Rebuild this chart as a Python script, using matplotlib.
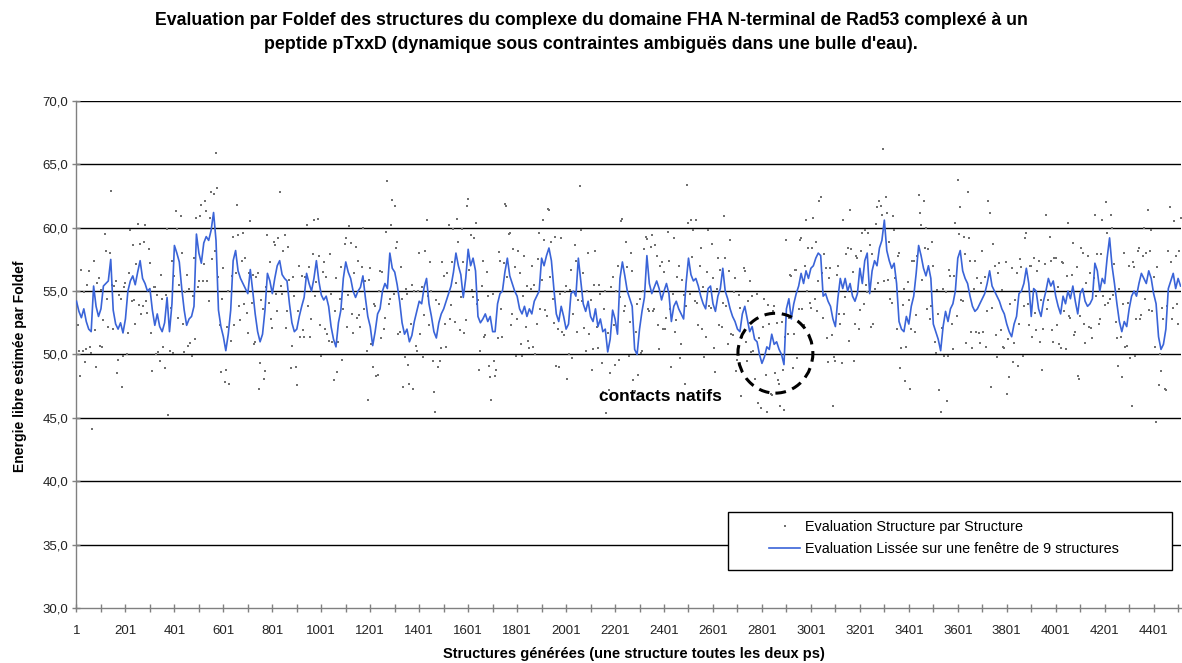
import matplotlib
matplotlib.use('Agg')
import matplotlib.pyplot as plt
import matplotlib.patches as patches
from matplotlib.ticker import FixedLocator, FuncFormatter
import numpy as np

plt.rcParams['font.family'] = ['Liberation Sans', 'DejaVu Sans']

# Energie lissée (fenêtre de 9 structures), relevée toutes les 10 structures
smooth_energy = [
    54.2, 53.4, 52.9, 53.6, 52.6, 52.0, 51.8, 55.4, 53.8, 53.0,
    53.6, 55.4, 55.6, 55.8, 57.5, 53.5, 52.4, 52.0, 52.5, 51.7,
    52.8, 55.0, 55.8, 56.2, 55.5, 56.5, 57.4, 56.0, 55.6, 55.0,
    55.2, 53.5, 52.3, 53.2, 52.2, 51.8, 52.5, 54.5, 51.8, 54.0,
    58.6, 58.0, 57.3, 55.2, 53.5, 52.3, 52.8, 53.0, 53.8, 59.5,
    58.0, 57.2, 58.8, 59.3, 59.0, 59.8, 61.2, 59.0, 53.5, 52.2,
    51.4, 50.3, 51.6, 53.5, 57.4, 58.2, 56.6, 56.0, 55.6, 55.2,
    54.8, 56.7, 55.0, 53.2, 51.8, 51.0, 51.6, 53.5, 56.4, 55.8,
    54.8, 56.0, 57.0, 57.4, 56.3, 56.0, 55.8, 54.0, 52.5, 51.8,
    52.0, 53.0, 53.8, 54.5, 56.4, 55.6, 55.0, 56.0, 57.4, 55.8,
    54.7, 54.3, 54.6, 53.8, 52.2, 51.2, 50.6, 52.5, 53.5, 56.0,
    57.3, 56.5, 56.0, 55.0, 54.5, 55.0, 55.3, 56.2, 54.5, 53.0,
    52.2, 50.7, 51.8, 53.2, 53.6, 55.0, 55.6, 55.2, 58.0, 56.8,
    56.5, 55.5, 54.2, 52.5, 51.6, 52.0, 51.0, 51.5, 52.6, 53.4,
    54.2, 54.0, 55.3, 56.0, 54.0, 53.0, 51.8, 51.3, 52.5, 53.2,
    53.6, 54.2, 54.8, 55.4, 56.5, 58.0, 57.0, 56.3, 54.5, 56.0,
    58.3, 57.0, 57.6, 56.6, 53.0, 52.5, 52.8, 53.2, 52.6, 53.0,
    51.8, 51.8, 54.0, 54.8, 55.0, 56.5, 57.6, 56.2, 55.6, 55.0,
    54.6, 53.6, 53.2, 53.8, 53.0, 53.6, 53.2, 54.2, 54.6, 55.0,
    57.6, 57.0, 57.8, 58.4, 57.4, 55.2, 53.2, 52.6, 53.8, 53.0,
    52.0, 52.4, 54.8, 55.0, 54.6, 57.6, 55.8, 54.0, 53.4, 54.2,
    53.0, 52.6, 53.6, 52.2, 52.8, 51.8, 52.0, 50.2, 51.2, 53.5,
    52.8, 51.6, 56.0, 57.3, 56.2, 55.0, 54.4, 53.8, 50.4, 50.0,
    52.0, 53.4, 54.5, 57.8, 55.6, 54.8, 55.3, 55.8, 55.2, 54.3,
    55.0, 55.6, 54.8, 52.6, 53.8, 54.2, 53.6, 53.2, 52.8, 55.6,
    57.6, 56.3, 55.8, 56.0, 55.4, 54.6, 54.0, 53.6, 55.2, 55.4,
    54.0, 53.4, 54.6, 55.2, 56.8, 55.0, 54.4, 53.6, 53.0, 52.6,
    52.0, 51.8, 53.2, 53.8, 52.8, 51.8, 52.2, 51.2, 51.0, 50.0,
    49.3, 49.8, 50.6, 50.4, 51.6, 50.8, 51.0, 50.4, 50.0, 49.2,
    53.6, 54.4, 52.8, 54.0, 54.8, 55.4, 56.4, 55.6, 56.6, 56.0,
    56.8, 57.0, 57.6, 58.0, 57.8, 54.6, 54.8, 54.2, 53.8, 52.8,
    52.2, 54.4, 56.0, 55.2, 56.0, 55.0, 55.6, 54.6, 54.2, 54.8,
    56.8, 55.6, 57.4, 58.0, 54.8, 56.6, 57.4, 57.0, 58.4, 59.0,
    60.6, 58.2, 57.4, 56.8, 57.2, 55.6, 52.6, 52.0, 51.8, 53.0,
    52.4, 53.8, 54.6, 56.4, 58.6, 57.8, 56.8, 56.2, 57.0, 56.0,
    52.4, 51.8, 51.2, 50.3, 52.2, 53.4, 52.6, 53.6, 54.0, 55.0,
    57.6, 58.2, 56.6, 56.0, 55.6, 54.6, 53.8, 53.4, 53.6, 54.0,
    54.4, 54.8, 55.6, 56.6, 55.4, 55.0, 54.6, 54.2, 53.6, 53.2,
    52.4, 51.8, 51.4, 52.4, 53.0, 54.8, 55.0, 55.6, 56.8, 55.6,
    53.0, 55.2, 55.0, 53.6, 53.0, 54.2, 55.0, 56.0, 55.4, 55.8,
    54.6, 53.8, 53.2, 54.6, 54.0, 55.0, 54.4, 55.4, 54.2, 53.2,
    54.8, 55.2, 54.2, 53.8, 54.0, 54.4, 57.2, 56.6, 55.0, 56.0,
    55.6, 57.6, 59.2, 57.0, 55.6, 54.0, 52.6, 51.8, 52.6, 52.2,
    53.6, 54.6, 55.0, 54.6, 55.6, 56.4, 56.0, 55.6, 56.6, 56.0,
    54.8, 54.0, 51.4, 50.4, 50.8, 52.0, 55.2, 55.8, 56.4, 55.2,
    56.0, 55.4,
]

# Energie de chaque structure, relevée toutes les 5 structures
raw_energy = [
    56.6, 52.3, 50.3, 48.3, 56.7, 50.3, 54.9, 49.4, 50.4, 55.5,
    56.6, 50.6, 50.1, 44.1, 57.4, 51.9, 49.0, 55.6, 56.0, 50.7,
    55.1, 50.6, 52.7, 59.5, 58.2, 54.4, 52.2, 58.0, 62.9, 55.5,
    52.0, 55.4, 55.8, 48.5, 49.6, 54.7, 54.4, 47.4, 49.9, 55.3,
    55.6, 50.0, 51.7, 56.4, 59.8, 54.2, 58.6, 54.3, 52.4, 57.1,
    60.3, 53.9, 58.7, 53.2, 53.8, 58.9, 60.2, 54.2, 53.3, 58.3,
    57.2, 51.7, 48.7, 55.3, 55.3, 50.0, 54.7, 50.2, 49.5, 56.3,
    54.4, 50.6, 48.9, 54.7, 59.9, 45.2, 50.3, 53.7, 57.4, 50.1,
    56.2, 61.3, 59.9, 52.9, 55.5, 60.9, 58.0, 52.4, 50.2, 54.9,
    56.3, 50.7, 55.2, 50.9, 49.9, 54.6, 57.6, 51.2, 60.8, 55.3,
    55.8, 60.9, 61.8, 55.8, 57.1, 62.1, 61.3, 55.8, 54.2, 60.8,
    62.8, 57.5, 62.7, 58.2, 65.9, 63.1, 56.1, 52.3, 48.6, 54.4,
    56.8, 47.8, 48.8, 52.2, 55.0, 47.7, 51.1, 56.2, 59.3, 52.3,
    56.4, 61.8, 59.4, 53.8, 52.7, 57.4, 59.6, 54.0, 57.6, 53.3,
    51.7, 56.4, 60.5, 54.1, 56.3, 50.8, 51.0, 56.1, 56.4, 47.3,
    49.3, 54.3, 53.6, 48.1, 48.7, 55.3, 59.4, 54.1, 57.3, 52.8,
    52.1, 58.9, 58.6, 54.8, 53.4, 59.2, 62.8, 55.4, 54.8, 58.2,
    59.4, 52.1, 53.4, 58.5, 55.9, 48.9, 50.7, 56.1, 54.6, 49.0,
    47.6, 53.4, 57.0, 51.4, 56.2, 51.9, 51.4, 56.1, 60.2, 53.8,
    56.9, 51.4, 52.8, 57.9, 60.6, 54.6, 55.7, 60.7, 57.8, 52.3,
    49.9, 56.5, 57.3, 52.0, 56.1, 51.6, 51.1, 57.9, 54.8, 51.0,
    48.0, 53.4, 56.0, 48.6, 51.0, 54.4, 56.9, 49.6, 53.6, 58.7,
    59.2, 52.2, 54.7, 60.1, 58.8, 53.2, 51.7, 56.4, 58.5, 52.9,
    57.4, 53.1, 52.2, 56.9, 60.0, 53.6, 55.8, 50.3, 46.4, 55.9,
    56.8, 50.8, 49.0, 54.0, 53.8, 48.3, 48.4, 55.0, 56.6, 51.3,
    56.5, 52.0, 52.9, 59.7, 63.7, 54.0, 54.4, 60.2, 62.2, 54.8,
    61.7, 58.4, 58.9, 51.6, 51.8, 56.9, 54.4, 47.4, 49.8, 55.2,
    54.8, 49.2, 47.7, 52.4, 55.5, 47.3, 55.0, 50.7, 50.3, 55.0,
    58.0, 51.6, 55.3, 49.8, 53.1, 58.2, 60.6, 54.6, 52.3, 57.3,
    55.0, 49.5, 47.0, 45.5, 54.3, 49.0, 54.0, 49.5, 50.5, 57.3,
    56.2, 52.4, 50.6, 56.4, 60.2, 52.8, 53.9, 57.3, 59.9, 52.6,
    55.6, 60.7, 58.9, 51.9, 54.5, 59.9, 57.3, 51.7, 52.7, 61.7,
    62.3, 56.7, 59.4, 55.1, 54.5, 59.2, 60.4, 54.0, 54.3, 48.8,
    50.3, 55.4, 57.4, 51.4, 51.5, 56.5, 54.6, 49.1, 48.2, 46.4,
    54.8, 49.5, 48.3, 48.8, 51.3, 58.1, 57.4, 53.6, 51.4, 57.2,
    61.9, 61.7, 56.1, 59.5, 59.6, 52.3, 53.2, 58.3, 56.9, 49.9,
    52.8, 58.2, 56.4, 50.8, 49.9, 54.6, 57.8, 52.2, 55.4, 51.1,
    50.5, 55.2, 57.0, 50.6, 55.5, 50.0, 52.4, 57.5, 59.6, 53.6,
    55.9, 60.6, 59.0, 53.5, 53.0, 61.5, 61.4, 56.1, 58.9, 54.4,
    52.5, 59.3, 49.1, 52.0, 49.0, 54.8, 59.2, 51.8, 51.5, 54.9,
    55.4, 48.1, 50.0, 55.1, 56.7, 49.7, 53.2, 58.6, 57.4, 51.8,
    54.3, 63.3, 59.8, 54.2, 56.4, 52.1, 50.3, 55.0, 58.0, 51.6,
    54.3, 48.8, 50.4, 55.5, 58.2, 52.2, 50.5, 55.5, 54.8, 49.3,
    47.0, 53.6, 55.0, 45.4, 51.7, 47.2, 48.5, 55.3, 56.1, 52.3,
    49.2, 55.0, 57.0, 49.6, 54.5, 60.5, 60.7, 53.4, 53.8, 58.9,
    56.9, 49.9, 52.6, 58.0, 56.6, 48.0, 47.1, 51.8, 54.0, 48.4,
    54.4, 50.1, 50.3, 55.0, 58.3, 59.3, 59.1, 53.6, 53.4, 58.5,
    59.4, 53.4, 53.6, 58.6, 57.8, 52.3, 50.4, 57.0, 57.3, 52.0,
    56.5, 52.0, 52.9, 59.7, 57.4, 53.6, 49.0, 54.8, 59.2, 51.8,
    52.7, 56.1, 57.0, 49.7, 50.8, 55.9, 54.7, 47.7, 53.8, 63.4,
    60.4, 54.8, 60.6, 57.7, 59.8, 54.2, 60.6, 54.1, 52.3, 57.0,
    58.4, 52.0, 55.3, 49.8, 51.4, 56.5, 59.8, 53.8, 53.7, 58.7,
    56.0, 50.5, 48.6, 55.2, 57.6, 52.3, 56.7, 52.2, 54.1, 60.9,
    57.6, 53.8, 50.8, 56.6, 59.0, 51.6, 51.5, 54.9, 56.0, 48.7,
    49.6, 54.7, 53.7, 46.7, 51.4, 56.8, 56.6, 51.0, 49.5, 54.2,
    55.8, 50.2, 54.6, 50.3, 48.1, 52.8, 54.8, 46.2, 51.3, 45.8,
    47.1, 52.2, 54.4, 48.4, 45.5, 53.9, 52.4, 46.9, 46.8, 53.4,
    53.8, 48.5, 52.5, 48.0, 47.7, 45.9, 52.6, 48.8, 45.6, 51.4,
    59.0, 51.6, 52.9, 56.3, 56.2, 48.9, 51.6, 56.7, 56.7, 49.7,
    53.6, 59.0, 59.2, 53.6, 52.3, 57.0, 60.6, 55.0, 58.4, 54.1,
    53.7, 58.4, 60.8, 54.4, 58.9, 53.4, 55.8, 62.1, 62.4, 56.4,
    52.9, 57.9, 56.8, 51.3, 49.4, 56.0, 56.8, 51.5, 45.9, 49.8,
    49.5, 56.3, 57.0, 53.2, 52.4, 49.3, 60.6, 53.2, 54.5, 57.9,
    58.4, 51.1, 61.4, 58.3, 56.5, 49.5, 52.4, 57.8, 57.6, 52.0,
    53.5, 58.2, 59.6, 54.0, 59.8, 55.5, 54.9, 59.6, 58.6, 52.2,
    57.9, 52.4, 55.2, 60.3, 61.6, 55.6, 62.1, 61.7, 61.0, 66.2,
    55.8, 62.4, 61.2, 55.9, 58.9, 54.4, 54.1, 60.9, 59.8, 56.0,
    52.0, 57.8, 58.0, 48.9, 50.5, 53.9, 55.2, 47.9, 50.6, 55.7,
    54.3, 47.3, 52.0, 57.4, 57.4, 51.8, 53.1, 57.8, 62.6, 61.2,
    60.2, 55.9, 62.1, 58.4, 60.0, 53.6, 58.3, 52.8, 53.8, 58.9,
    57.0, 51.0, 50.1, 55.1, 53.2, 47.2, 45.5, 52.1, 55.2, 49.9,
    54.9, 46.3, 49.9, 56.7, 56.2, 52.4, 50.4, 56.2, 60.4, 53.0,
    63.8, 59.5, 61.6, 54.3, 54.2, 59.3, 57.9, 50.9, 62.8, 59.2,
    57.4, 51.8, 50.5, 55.2, 57.4, 51.8, 56.0, 51.7, 50.9, 55.6,
    58.2, 51.8, 56.1, 50.6, 53.4, 62.1, 61.2, 47.4, 53.7, 58.7,
    57.0, 51.5, 49.8, 56.4, 57.2, 51.9, 55.1, 50.6, 50.5, 57.3,
    46.9, 51.2, 48.2, 54.0, 56.8, 49.4, 50.9, 54.3, 56.4, 49.1,
    52.4, 57.5, 56.9, 49.9, 53.8, 59.2, 59.6, 54.0, 52.3, 57.0,
    57.0, 51.4, 57.6, 53.3, 51.9, 56.6, 57.4, 51.0, 54.3, 48.8,
    52.0, 57.1, 61.0, 53.6, 54.3, 59.3, 57.4, 51.9, 51.0, 57.6,
    57.6, 52.3, 55.3, 50.8, 50.5, 57.3, 57.2, 53.4, 50.4, 56.2,
    60.4, 53.0, 52.9, 56.3, 58.8, 51.5, 51.8, 56.9, 48.3, 48.1,
    53.0, 58.4, 58.0, 52.4, 50.9, 55.6, 57.8, 52.2, 56.4, 52.1,
    51.3, 56.0, 61.0, 54.6, 57.9, 52.4, 52.8, 57.9, 60.6, 54.6,
    53.9, 62.0, 59.6, 54.1, 54.4, 61.0, 60.0, 54.7, 57.1, 52.6,
    51.3, 49.1, 55.2, 51.4, 48.2, 54.0, 58.0, 50.6, 50.7, 54.1,
    57.0, 49.7, 45.9, 57.3, 56.9, 49.9, 52.8, 58.2, 58.4, 52.8,
    53.1, 57.8, 60.0, 54.4, 58.0, 61.4, 53.5, 58.2, 59.8, 53.4,
    56.1, 50.6, 44.7, 56.9, 47.6, 50.0, 48.7, 53.7, 52.8, 47.3,
    47.2, 53.8, 58.2, 61.6, 57.3, 52.8, 53.7, 60.5, 57.8, 54.0,
    52.4, 58.2, 60.8,
]

smooth_x = np.arange(1, 10 * len(smooth_energy), 10)
raw_x = np.arange(1, 5 * len(raw_energy), 5)

y_ticks = [30, 35, 40, 45, 50, 55, 60, 65, 70]
x_ticks = list(range(1, 4502, 100))

title = ("Evaluation par Foldef des structures du complexe du domaine FHA N-terminal de Rad53 complexé à un\n"
         "peptide pTxxD (dynamique sous contraintes ambiguës dans une bulle d'eau).")

fig = plt.figure(figsize=(11.82, 6.63), dpi=100)
fig.patch.set_facecolor('white')
ax = fig.add_axes([0.0647, 0.0830, 0.9345, 0.7647])

# grille horizontale
for v in y_ticks[1:]:
    ax.axhline(v, color='black', lw=1.0, zorder=1)

pts, = ax.plot(raw_x, raw_energy, ls='none', marker='s', ms=1.7, mew=0,
               color='#707070', zorder=2, label='Evaluation Structure par Structure')
ln, = ax.plot(smooth_x, smooth_energy, color='#3a64d8', lw=1.2, zorder=3,
              label='Evaluation Lissée sur une fenêtre de 9 structures')

ax.set_xlim(1, 4513)
ax.set_ylim(30, 70)

for s in ['top', 'right']:
    ax.spines[s].set_visible(False)
for s in ['left', 'bottom']:
    ax.spines[s].set_color('#808080')
    ax.spines[s].set_linewidth(1.0)

ax.set_yticks(y_ticks)
ax.yaxis.set_major_formatter(FuncFormatter(lambda v, p: f"{v:.1f}".replace('.', ',')))
ax.xaxis.set_major_locator(FixedLocator(x_ticks))
ax.xaxis.set_major_formatter(FuncFormatter(lambda v, p: str(int(round(v))) if int(round(v - 1)) % 200 == 0 else ''))
ax.tick_params(axis='y', direction='inout', length=6, width=1, color='#808080',
               labelsize=9.5, labelcolor='#222222', pad=3)
ax.tick_params(axis='x', direction='inout', length=6, width=1, color='#808080',
               labelsize=9.5, labelcolor='#222222', pad=9)

# zone des contacts natifs
circle = patches.Ellipse((2856, 50.1), 306, 6.3, fill=False, edgecolor='black',
                         lw=2.2, ls=(0, (3.5, 2.2)), zorder=4)
ax.add_patch(circle)
ax.text(2385, 46.66, 'contacts natifs', fontsize=12.5, fontweight='bold',
        ha='center', va='center', zorder=4)

# cadre de légende
box = patches.Rectangle((0.5899, 0.075), 0.402, 0.114, transform=ax.transAxes,
                        facecolor='white', edgecolor='black', lw=1.0, zorder=5)
ax.add_patch(box)
leg = ax.legend(handles=[pts, ln], loc='center left', bbox_to_anchor=(0.6207, 0.138),
                frameon=False, fontsize=10.4, borderpad=0, handlelength=2.15,
                handletextpad=0.35, labelspacing=0.5, numpoints=1, markerscale=1.0)
leg.set_zorder(6)

fig.text(0.5, 1 - 12 / 663, title, ha='center', va='top', fontsize=12.8,
         fontweight='bold', linespacing=1.55)
fig.text(0.536, 1 - 654 / 663, 'Structures générées (une structure toutes les deux ps)',
         ha='center', va='center', fontsize=10.5, fontweight='bold')
fig.text(20 / 1182, 1 - 366 / 663, 'Energie libre estimée par Foldef', rotation=90,
         ha='center', va='center', fontsize=10, fontweight='bold')

fig.savefig('out.png', dpi=100)
